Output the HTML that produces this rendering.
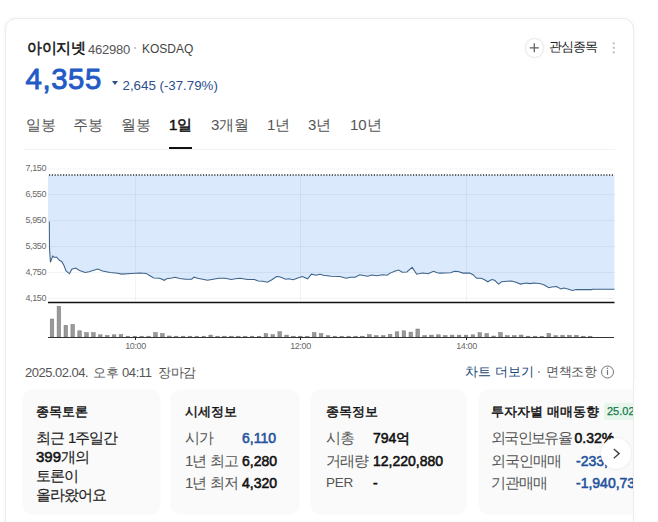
<!DOCTYPE html>
<html><head><meta charset="utf-8">
<style>
*{margin:0;padding:0;box-sizing:border-box}
html,body{width:658px;height:522px;overflow:hidden;background:#fff}
body{position:relative;font-family:"Liberation Sans",sans-serif;color:#222}
.a{position:absolute;white-space:nowrap;line-height:1}
#card{position:absolute;left:5px;top:18px;width:629px;height:560px;border:1px solid #ececec;border-radius:11px;background:#fff;box-shadow:0 0 4px rgba(0,0,0,0.05);overflow:hidden}
.name{left:27px;top:39.5px;font-size:15px;font-weight:normal;-webkit-text-stroke:0.5px #111;color:#111;letter-spacing:-0.4px}
.code{left:88px;top:42.5px;font-size:13px;color:#555;letter-spacing:-0.25px}
.kos{left:142px;top:43px;font-size:12px;color:#444}
.dot1{position:absolute;left:134px;top:47px;width:2px;height:2px;border-radius:1px;background:#bbb}
.price{left:25.5px;top:64px;letter-spacing:0.6px;font-size:29.3px;font-weight:normal;-webkit-text-stroke:0.9px #235ac6;color:#235ac6}
.chg{left:122.5px;top:78.5px;font-size:13.3px;color:#2c4f8c}
.tri{position:absolute;left:111.6px;top:81.2px;width:0;height:0;border-left:3.6px solid transparent;border-right:3.6px solid transparent;border-top:4.9px solid #2c4f8c}
.tab{top:117px;font-size:15px;color:#555}
.tab.on{font-weight:normal;color:#111;-webkit-text-stroke:0.5px #111}
.uline{position:absolute;left:169px;top:147px;width:23px;height:2px;background:#111}
.div{position:absolute;left:24px;top:149px;width:591px;height:1px;background:#f2f2f2}
.fav{position:absolute;left:524.5px;top:38px;width:19.5px;height:19.5px;border:1px solid #e8e8e8;border-radius:50%;box-shadow:0 0 2px rgba(0,0,0,0.06)}
.favt{left:549px;top:40px;font-size:13px;color:#222;letter-spacing:-1px}
.kebab{position:absolute;left:612.3px;top:41.4px;width:3px;height:13.5px;background:radial-gradient(circle,#b0b0b0 1px,transparent 1.2px) 0 0/3px 4.5px repeat-y}
svg{position:absolute;left:0;top:0}
.ax{font-size:9px;fill:#6a6a6a;letter-spacing:-0.4px;font-family:"Liberation Sans",sans-serif}
.date{left:25px;top:365.5px;font-size:13px;color:#555}
.more{left:465px;top:365px;font-size:13px;color:#174677}
.disc{left:546px;top:365px;font-size:13px;color:#555;letter-spacing:-0.3px}
.box{position:absolute;top:390px;height:124px;background:#fafafa;border-radius:10px;box-shadow:0 0 2px rgba(0,0,0,0.05)}
.bt{font-size:13px;font-weight:normal;color:#111;-webkit-text-stroke:0.45px #111}
.bl{font-size:15px;color:#555;letter-spacing:-1px}
.c1{color:#222;-webkit-text-stroke:0.15px #222}
.bv{font-size:14px;font-weight:normal;color:#111;-webkit-text-stroke:0.55px currentColor}
.blue{color:#24539e}
.badge{position:absolute;left:603.5px;top:403.4px;height:17px;padding:0 3.5px;background:#e6f6ec;border-radius:3px;color:#17784a;font-size:11px;line-height:17px;-webkit-text-stroke:0.25px #17784a}
.next{position:absolute;left:600.5px;top:438px;width:30.5px;height:30.5px;border-radius:50%;background:#fff;box-shadow:0 0 3px rgba(0,0,0,0.09)}
</style></head><body>
<div id="card"></div>
<div class="a name">아이지넷</div>
<div class="a code">462980</div><div class="dot1"></div><div class="a kos">KOSDAQ</div>
<div class="a price">4,355</div>
<div class="tri"></div>
<div class="a chg">2,645 (-37.79%)</div>
<div class="fav"></div>
<svg width="658" height="522" style="pointer-events:none"><path d="M529.8 47.8h9M534.3 43.3v9" stroke="#5e5e5e" stroke-width="1.25"/></svg>
<div class="a favt">관심종목</div>
<svg width="658" height="522"><g fill="#bbb"><circle cx="613.8" cy="43.3" r="1.15"/><circle cx="613.8" cy="47.8" r="1.15"/><circle cx="613.8" cy="52.3" r="1.15"/></g></svg>

<div class="a tab" style="left:26px">일봉</div>
<div class="a tab" style="left:73px">주봉</div>
<div class="a tab" style="left:121px">월봉</div>
<div class="a tab on" style="left:169px">1일</div>
<div class="a tab" style="left:211px">3개월</div>
<div class="a tab" style="left:267px">1년</div>
<div class="a tab" style="left:308px">3년</div>
<div class="a tab" style="left:350px">10년</div>
<div class="uline"></div>
<div class="div"></div>

<svg width="658" height="522">
<polygon points="48,175 614.5,175 614.5,289.2 614.5,289.2 593,289.2 591.4,289.6 576.2,289.6 572.4,290.4 568.6,289.2 564.1,288.1 561,288.9 556.5,286.6 551.9,287.1 548.9,287.7 544.3,285.1 539.8,283.6 533.7,283.1 529.9,283.6 526.1,283.1 520.5,284.1 516,282.2 511.4,281 506.9,281.3 501.6,281.8 498.5,284.1 494.7,280.3 491.7,279.5 487.9,281.8 484.1,279.5 481,278.3 476.5,278.3 473.4,275 469.6,273.1 462.8,273.1 458.2,271.6 454.4,271.2 450.6,272.7 440,273.1 437.3,272.7 433.5,271.2 428.1,273.7 422.8,273.1 416.7,274.2 412.2,267.4 406.9,271.9 402.3,272.2 398.5,270.1 394.7,271.2 390.2,273.1 387.1,275.3 382.6,274.7 376.5,275.7 371.9,275 367.4,276.2 359.8,274.7 355.2,277.2 350.6,277.2 346.1,278.3 340,276.5 331.2,276.2 323.6,275.3 319.8,274.2 316,275.3 311.4,274.2 307.6,278.8 302.3,276.5 297.8,278 293.2,279.8 288.6,278.8 285.6,279.2 279.5,276.8 276.5,276.5 271.9,279.8 267.4,282.2 262.8,281.3 258.2,281 254.4,279.5 247.6,279.5 243,278.8 240,278.3 235.7,278.8 231.2,279.5 225.1,278.3 219,278.3 213,279.2 207.6,280.3 203.8,279.5 197.8,278.3 194,277.2 191.7,279.2 185.6,279.2 179.5,278.4 175,277.2 171.9,278 166.6,278.8 164.3,280.3 159.8,278.3 153.7,278 149.1,275.3 146.1,273.4 140,273.1 131.2,273.4 121.6,274.1 117.8,273.2 110,272.4 102.5,270.9 97.7,269 89,271.8 85.2,272.4 79.5,270.5 75.7,268 71.8,269.3 69.5,273.8 66,270.9 64.2,266 61.9,261.7 59.4,260.3 56.5,257 54.6,257.5 52.7,256 50.4,262.3 49.5,248 49.3,221.5 48,221.5" fill="#daeafc"/>
<g stroke="#f4f4f4" stroke-width="1">
<line x1="48" y1="169" x2="614.5" y2="169"/>
</g>
<g stroke="rgba(20,40,80,0.055)" stroke-width="1">
<line x1="48" y1="194.5" x2="614.5" y2="194.5"/>
<line x1="48" y1="220.5" x2="614.5" y2="220.5"/>
<line x1="48" y1="246.5" x2="614.5" y2="246.5"/>
<line x1="48" y1="272.5" x2="614.5" y2="272.5"/>
<line x1="48" y1="298.5" x2="614.5" y2="298.5"/>
<line x1="135.5" y1="175" x2="135.5" y2="302"/>
<line x1="300.5" y1="175" x2="300.5" y2="302"/>
<line x1="466.5" y1="175" x2="466.5" y2="302"/>
</g>
<line x1="49" y1="175" x2="614.5" y2="175" stroke="#333" stroke-width="1.4" stroke-dasharray="1.2 1.6"/>
<polyline points="49.3,221.5 49.5,248 50.4,262.3 52.7,256 54.6,257.5 56.5,257 59.4,260.3 61.9,261.7 64.2,266 66,270.9 69.5,273.8 71.8,269.3 75.7,268 79.5,270.5 85.2,272.4 89,271.8 97.7,269 102.5,270.9 110,272.4 117.8,273.2 121.6,274.1 131.2,273.4 140,273.1 146.1,273.4 149.1,275.3 153.7,278 159.8,278.3 164.3,280.3 166.6,278.8 171.9,278 175,277.2 179.5,278.4 185.6,279.2 191.7,279.2 194,277.2 197.8,278.3 203.8,279.5 207.6,280.3 213,279.2 219,278.3 225.1,278.3 231.2,279.5 235.7,278.8 240,278.3 243,278.8 247.6,279.5 254.4,279.5 258.2,281 262.8,281.3 267.4,282.2 271.9,279.8 276.5,276.5 279.5,276.8 285.6,279.2 288.6,278.8 293.2,279.8 297.8,278 302.3,276.5 307.6,278.8 311.4,274.2 316,275.3 319.8,274.2 323.6,275.3 331.2,276.2 340,276.5 346.1,278.3 350.6,277.2 355.2,277.2 359.8,274.7 367.4,276.2 371.9,275 376.5,275.7 382.6,274.7 387.1,275.3 390.2,273.1 394.7,271.2 398.5,270.1 402.3,272.2 406.9,271.9 412.2,267.4 416.7,274.2 422.8,273.1 428.1,273.7 433.5,271.2 437.3,272.7 440,273.1 450.6,272.7 454.4,271.2 458.2,271.6 462.8,273.1 469.6,273.1 473.4,275 476.5,278.3 481,278.3 484.1,279.5 487.9,281.8 491.7,279.5 494.7,280.3 498.5,284.1 501.6,281.8 506.9,281.3 511.4,281 516,282.2 520.5,284.1 526.1,283.1 529.9,283.6 533.7,283.1 539.8,283.6 544.3,285.1 548.9,287.7 551.9,287.1 556.5,286.6 561,288.9 564.1,288.1 568.6,289.2 572.4,290.4 576.2,289.6 591.4,289.6 593,289.2 614.5,289.2" fill="none" stroke="#3d6389" stroke-width="1.05"/>
<line x1="48" y1="302.5" x2="614.5" y2="302.5" stroke="#111" stroke-width="1.6"/>
<g fill="#999" stroke="#7a7a7a" stroke-width="0.5">
<rect x="50.2" y="319.0" width="3.6" height="18.0"/>
<rect x="57.1" y="306.2" width="3.6" height="30.8"/>
<rect x="64.0" y="325.3" width="3.6" height="11.7"/>
<rect x="70.9" y="324.4" width="3.6" height="12.6"/>
<rect x="77.8" y="330.8" width="3.6" height="6.2"/>
<rect x="84.7" y="332.6" width="3.6" height="4.4"/>
<rect x="91.6" y="332.6" width="3.6" height="4.4"/>
<rect x="98.5" y="334.8" width="3.6" height="2.2"/>
<rect x="105.4" y="335.5" width="3.6" height="1.5"/>
<rect x="112.3" y="334.8" width="3.6" height="2.2"/>
<rect x="119.2" y="334.5" width="3.6" height="2.5"/>
<rect x="126.1" y="336.2" width="3.6" height="0.8"/>
<rect x="133.0" y="336.2" width="3.6" height="0.8"/>
<rect x="139.9" y="336.2" width="3.6" height="0.8"/>
<rect x="146.8" y="336.2" width="3.6" height="0.8"/>
<rect x="153.7" y="332.6" width="3.6" height="4.4"/>
<rect x="160.6" y="333.5" width="3.6" height="3.5"/>
<rect x="167.5" y="336.0" width="3.6" height="1.0"/>
<rect x="174.4" y="336.2" width="3.6" height="0.8"/>
<rect x="181.3" y="336.2" width="3.6" height="0.8"/>
<rect x="188.2" y="336.2" width="3.6" height="0.8"/>
<rect x="195.1" y="336.2" width="3.6" height="0.8"/>
<rect x="202.0" y="336.2" width="3.6" height="0.8"/>
<rect x="208.9" y="335.1" width="3.6" height="1.9"/>
<rect x="215.8" y="336.2" width="3.6" height="0.8"/>
<rect x="222.7" y="336.2" width="3.6" height="0.8"/>
<rect x="229.6" y="336.2" width="3.6" height="0.8"/>
<rect x="236.5" y="336.2" width="3.6" height="0.8"/>
<rect x="243.4" y="336.2" width="3.6" height="0.8"/>
<rect x="250.3" y="336.2" width="3.6" height="0.8"/>
<rect x="257.2" y="336.2" width="3.6" height="0.8"/>
<rect x="264.1" y="333.5" width="3.6" height="3.5"/>
<rect x="271.0" y="334.7" width="3.6" height="2.3"/>
<rect x="277.9" y="331.7" width="3.6" height="5.3"/>
<rect x="284.8" y="335.1" width="3.6" height="1.9"/>
<rect x="291.7" y="336.2" width="3.6" height="0.8"/>
<rect x="298.6" y="336.2" width="3.6" height="0.8"/>
<rect x="305.5" y="336.2" width="3.6" height="0.8"/>
<rect x="312.4" y="332.6" width="3.6" height="4.4"/>
<rect x="319.3" y="333.5" width="3.6" height="3.5"/>
<rect x="326.2" y="335.7" width="3.6" height="1.3"/>
<rect x="333.1" y="336.2" width="3.6" height="0.8"/>
<rect x="340.0" y="336.2" width="3.6" height="0.8"/>
<rect x="346.9" y="336.2" width="3.6" height="0.8"/>
<rect x="353.8" y="336.2" width="3.6" height="0.8"/>
<rect x="360.7" y="336.2" width="3.6" height="0.8"/>
<rect x="367.6" y="334.7" width="3.6" height="2.3"/>
<rect x="374.5" y="335.7" width="3.6" height="1.3"/>
<rect x="381.4" y="335.7" width="3.6" height="1.3"/>
<rect x="388.3" y="334.3" width="3.6" height="2.7"/>
<rect x="395.2" y="331.8" width="3.6" height="5.2"/>
<rect x="402.1" y="330.8" width="3.6" height="6.2"/>
<rect x="409.0" y="332.1" width="3.6" height="4.9"/>
<rect x="415.9" y="329.0" width="3.6" height="8.0"/>
<rect x="422.8" y="335.5" width="3.6" height="1.5"/>
<rect x="429.7" y="335.1" width="3.6" height="1.9"/>
<rect x="436.6" y="334.8" width="3.6" height="2.2"/>
<rect x="443.5" y="335.5" width="3.6" height="1.5"/>
<rect x="450.4" y="335.1" width="3.6" height="1.9"/>
<rect x="457.3" y="335.1" width="3.6" height="1.9"/>
<rect x="464.2" y="335.1" width="3.6" height="1.9"/>
<rect x="471.1" y="334.8" width="3.6" height="2.2"/>
<rect x="478.0" y="332.7" width="3.6" height="4.3"/>
<rect x="484.9" y="333.5" width="3.6" height="3.5"/>
<rect x="491.8" y="336.0" width="3.6" height="1.0"/>
<rect x="498.7" y="332.5" width="3.6" height="4.5"/>
<rect x="505.6" y="335.7" width="3.6" height="1.3"/>
<rect x="512.5" y="335.7" width="3.6" height="1.3"/>
<rect x="519.4" y="335.0" width="3.6" height="2.0"/>
<rect x="526.3" y="336.2" width="3.6" height="0.8"/>
<rect x="533.2" y="336.2" width="3.6" height="0.8"/>
<rect x="540.1" y="336.2" width="3.6" height="0.8"/>
<rect x="547.0" y="333.4" width="3.6" height="3.6"/>
<rect x="553.9" y="335.7" width="3.6" height="1.3"/>
<rect x="560.8" y="335.2" width="3.6" height="1.8"/>
<rect x="567.7" y="335.2" width="3.6" height="1.8"/>
<rect x="574.6" y="335.2" width="3.6" height="1.8"/>
<rect x="581.5" y="336.2" width="3.6" height="0.8"/>
<rect x="588.4" y="336.2" width="3.6" height="0.8"/>
</g>
<line x1="48" y1="337.5" x2="614" y2="337.5" stroke="#333" stroke-width="1.2"/>
<g stroke="#222" stroke-width="1"><line x1="135.5" y1="337" x2="135.5" y2="340"/><line x1="300.5" y1="337" x2="300.5" y2="340"/><line x1="466.5" y1="337" x2="466.5" y2="340"/></g>
<g class="ax" text-anchor="end">
<text x="46" y="171">7,150</text>
<text x="46" y="197">6,550</text>
<text x="46" y="223">5,950</text>
<text x="46" y="249">5,350</text>
<text x="46" y="275">4,750</text>
<text x="46" y="301">4,150</text>
</g>
<g class="ax" text-anchor="middle">
<text x="135.5" y="349">10:00</text>
<text x="300.5" y="349">12:00</text>
<text x="466.5" y="349">14:00</text>
</g>
</svg>

<div class="a date" style="letter-spacing:-0.5px">2025.02.04.</div><div class="a date" style="left:92.5px">오후</div><div class="a date" style="left:122px;letter-spacing:-0.4px">04:11</div><div class="a date" style="left:158px;letter-spacing:-0.5px">장마감</div>
<div class="a more">차트 더보기</div>
<div class="dot1" style="left:537.5px;top:371px;background:#999"></div><div class="a disc">면책조항</div>
<svg width="658" height="522"><circle cx="607.5" cy="372" r="6" fill="none" stroke="#777" stroke-width="1"/><path d="M607.5 370v5" stroke="#777" stroke-width="1.2"/><circle cx="607.5" cy="368.3" r="0.8" fill="#777"/></svg>

<div class="box" style="left:23px;width:137px"></div>
<div class="box" style="left:171px;width:128px"></div>
<div class="box" style="left:311px;width:155px"></div>
<div class="box" style="left:479px;width:180px"></div>

<div class="a bt" style="left:36px;top:405px">종목토론</div>
<div class="a bl c1" style="left:36px;top:430px">최근</div><div class="a bl c1" style="left:68px;top:430px">1주일간</div>
<div class="a bl c1" style="left:36px;top:449px"><b style="color:#111;letter-spacing:0;font-weight:normal;-webkit-text-stroke:0.55px #111">399</b>개의</div>
<div class="a bl c1" style="left:36px;top:468px">토론이</div>
<div class="a bl c1" style="left:36px;top:487px">올라왔어요</div>

<div class="a bt" style="left:185px;top:405px">시세정보</div>
<div class="a bl" style="left:185px;top:430px">시가</div>
<div class="a bv blue" style="left:242px;top:431px">6,110</div>
<div class="a bl" style="left:185px;top:453px">1년 최고</div>
<div class="a bv" style="left:242px;top:454px">6,280</div>
<div class="a bl" style="left:185px;top:475px">1년 최저</div>
<div class="a bv" style="left:242px;top:476px">4,320</div>

<div class="a bt" style="left:326px;top:405px">종목정보</div>
<div class="a bl" style="left:326px;top:430px">시총</div>
<div class="a bv" style="left:373px;top:431px">794억</div>
<div class="a bl" style="left:326px;top:453px">거래량</div>
<div class="a bv" style="left:373px;top:454px">12,220,880</div>
<div class="a bl" style="left:326px;top:476px;font-size:13.5px;letter-spacing:-0.2px">PER</div>
<div class="a bv" style="left:373px;top:476px">-</div>

<div class="a bt" style="left:491px;top:405px">투자자별 매매동향</div>
<div class="badge">25.02</div>
<div class="a bl" style="left:491px;top:430px;letter-spacing:-1.7px">외국인보유율</div>
<div class="a bv" style="left:574.5px;top:431px">0.32%</div>
<div class="a bl" style="left:491px;top:453px">외국인매매</div>
<div class="a bv blue" style="left:576px;top:454px">-233,1</div>
<div class="a bl" style="left:491px;top:475px">기관매매</div>
<div class="a bv blue" style="left:576px;top:476px">-1,940,73</div>
<div class="next"></div>
<svg width="658" height="522"><path d="M613.8 449l5.4 4.6-5.4 4.6" fill="none" stroke="#444" stroke-width="1.4"/></svg>
<div style="position:absolute;left:634px;top:380px;width:24px;height:142px;background:#fff"></div><div style="position:absolute;left:633px;top:380px;width:1px;height:142px;background:#ececec"></div>
</body></html>
